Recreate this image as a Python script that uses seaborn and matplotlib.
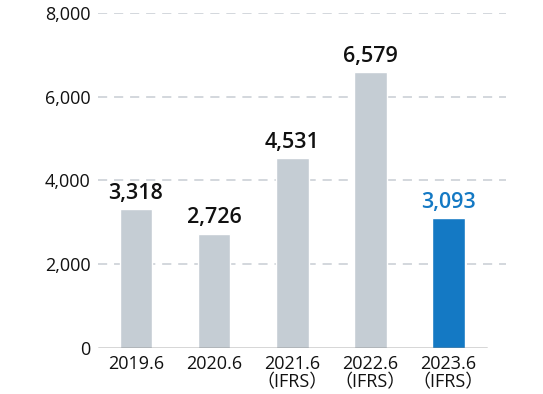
import matplotlib
matplotlib.use('Agg')
import matplotlib.pyplot as plt
import seaborn as sns
import pandas as pd

# data
periods = ['2019.6', '2020.6', '2021.6\n（IFRS）', '2022.6\n（IFRS）', '2023.6\n（IFRS）']
values = [3318, 2726, 4531, 6579, 3093]
bar_colors = ['#c5cdd4', '#c5cdd4', '#c5cdd4', '#c5cdd4', '#1479c4']
label_colors = ['#111111', '#111111', '#111111', '#111111', '#1479c4']
yticks = [0, 2000, 4000, 6000, 8000]

df = pd.DataFrame({'period': periods, 'value': values})

sns.set_style('white')
plt.rcParams['font.family'] = ['Open Sans', 'Noto Sans CJK JP', 'DejaVu Sans']

fig = plt.figure(figsize=(5.43, 3.94), dpi=100)
ax = fig.add_axes([0.180, 0.117, 0.752, 0.850])

sns.barplot(data=df, x='period', y='value', hue='period', palette=bar_colors,
            width=0.42, legend=False, ax=ax, zorder=3, saturation=1)

# dashed grid lines
for t in yticks[1:]:
    ax.axhline(t, color='#c8cdd3', lw=1.1, ls=(0, (6, 4.5)), zorder=1)
ax.axhline(0, xmin=0, xmax=0.953, color='#333333', lw=1.0, zorder=4)

for i, v in enumerate(values):
    ax.text(i, v + 130, f'{v:,}', ha='center', va='bottom', fontsize=15.5,
            fontweight='semibold', color=label_colors[i])

ax.set_xlim(-0.49, 4.74)
ax.set_ylim(0, 8000)
ax.set_yticks(yticks)
ax.set_yticklabels([f'{t:,}' for t in yticks], fontsize=13, color='#111111')
ax.tick_params(axis='y', length=0, pad=5)
ax.tick_params(axis='x', length=0, pad=5, labelsize=13, labelcolor='#111111')
for lab in ax.get_xticklabels():
    lab.set_linespacing(1.0)
ax.set_xlabel('')
ax.set_ylabel('')
sns.despine(ax=ax, left=True, bottom=True)

fig.savefig('out.png', dpi=100)
